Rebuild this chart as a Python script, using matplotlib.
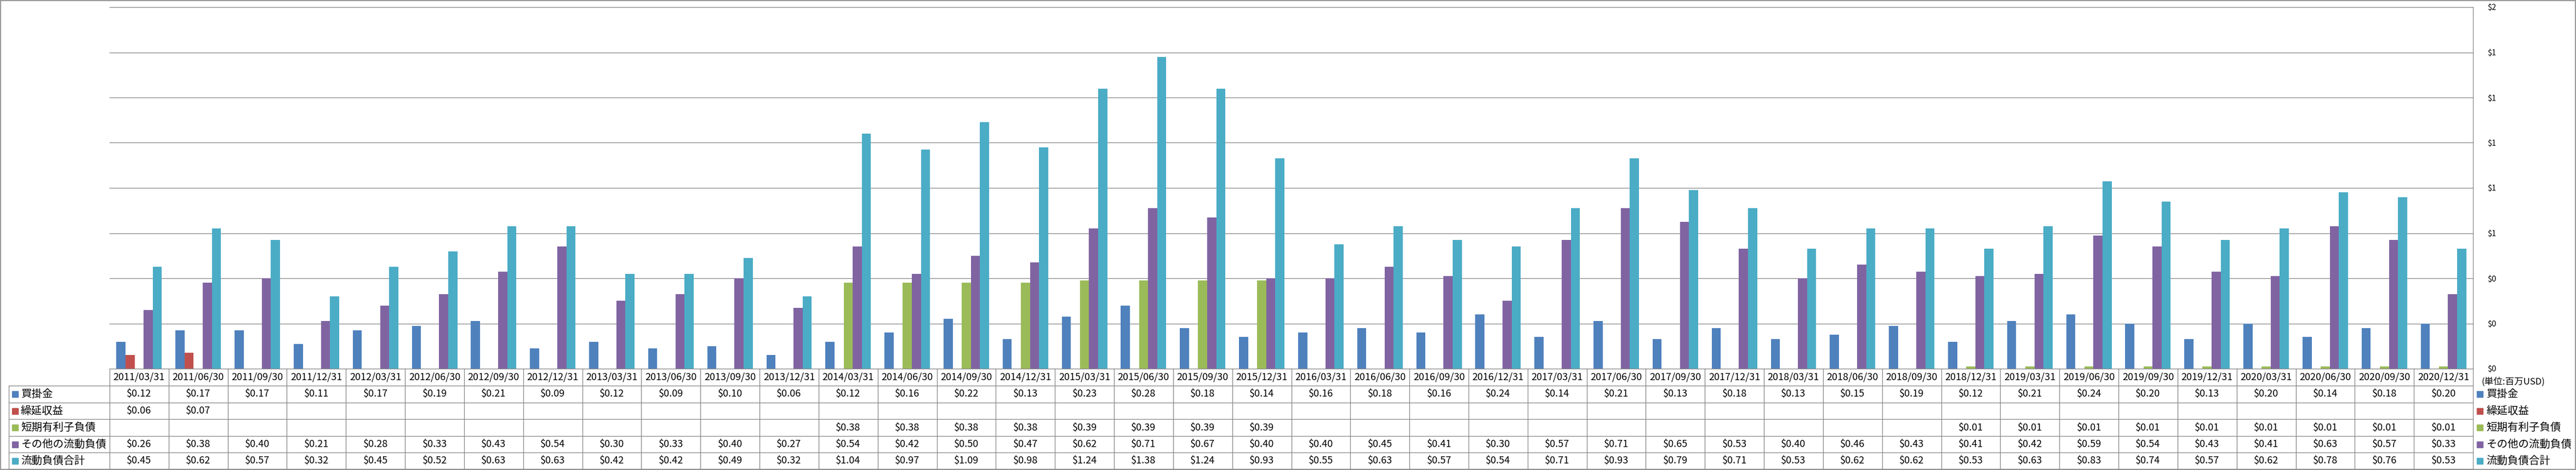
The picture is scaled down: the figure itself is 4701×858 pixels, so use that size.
import numpy as np
import matplotlib
matplotlib.use('Agg')
import matplotlib.pyplot as plt
from matplotlib.patches import Rectangle
from matplotlib.lines import Line2D
from matplotlib.transforms import blended_transform_factory
from matplotlib.ticker import FuncFormatter, MultipleLocator

plt.rcParams['font.family'] = ['Noto Sans CJK JP', 'DejaVu Sans']

# 期末日
dates = [f"{y}/{md}" for y in range(2011, 2021) for md in ("03/31", "06/30", "09/30", "12/31")]

names = ["買掛金", "繰延収益", "短期有利子負債", "その他の流動負債", "流動負債合計"]
colors = ["#4F81BD", "#C0504D", "#9BBB59", "#8064A2", "#4BACC6"]

accounts_payable = [0.12, 0.17, 0.17, 0.11, 0.17, 0.19, 0.21, 0.09, 0.12, 0.09, 0.10, 0.06,
                    0.12, 0.16, 0.22, 0.13, 0.23, 0.28, 0.18, 0.14, 0.16, 0.18, 0.16, 0.24,
                    0.14, 0.21, 0.13, 0.18, 0.13, 0.15, 0.19, 0.12, 0.21, 0.24, 0.20, 0.13,
                    0.20, 0.14, 0.18, 0.20]
deferred_revenue = [0.06, 0.07] + [None] * 38
short_debt = ([None] * 12 + [0.38] * 4 + [0.39] * 4 + [None] * 11 + [0.01] * 9)
other_current = [0.26, 0.38, 0.40, 0.21, 0.28, 0.33, 0.43, 0.54, 0.30, 0.33, 0.40, 0.27,
                 0.54, 0.42, 0.50, 0.47, 0.62, 0.71, 0.67, 0.40, 0.40, 0.45, 0.41, 0.30,
                 0.57, 0.71, 0.65, 0.53, 0.40, 0.46, 0.43, 0.41, 0.42, 0.59, 0.54, 0.43,
                 0.41, 0.63, 0.57, 0.33]
total_current = [0.45, 0.62, 0.57, 0.32, 0.45, 0.52, 0.63, 0.63, 0.42, 0.42, 0.49, 0.32,
                 1.04, 0.97, 1.09, 0.98, 1.24, 1.38, 1.24, 0.93, 0.55, 0.63, 0.57, 0.54,
                 0.71, 0.93, 0.79, 0.71, 0.53, 0.62, 0.62, 0.53, 0.63, 0.83, 0.74, 0.57,
                 0.62, 0.78, 0.76, 0.53]
series = [accounts_payable, deferred_revenue, short_debt, other_current, total_current]

W, H = 4701, 858
fig = plt.figure(figsize=(W / 100, H / 100), dpi=100)
gc = "#868686"


def fx(px):
    return px / W


def fy(py):
    return 1 - py / H


L, R, T, B = 200, 4513, 13, 673
ax = fig.add_axes([fx(L), fy(B), (R - L) / W, (B - T) / H])

n = len(dates)
x = np.arange(n)
bw = 1 / 6.5
for k, (vals, col) in enumerate(zip(series, colors)):
    v = np.array([np.nan if a is None else a for a in vals], dtype=float)
    m = ~np.isnan(v)
    ax.bar(x[m] + (k - 2) * bw, v[m], width=bw, color=col, linewidth=0, zorder=3)

ax.set_xlim(-0.5, n - 0.5)
ax.set_ylim(0, 1.6)
ax.yaxis.set_major_locator(MultipleLocator(0.2))
ax.yaxis.set_major_formatter(FuncFormatter(lambda v, p: f"${int(np.floor(v + 0.5 + 1e-9))}"))
ax.yaxis.tick_right()
ax.tick_params(axis='y', length=0, pad=19, labelsize=10.5, colors='#000000')
ax.set_xticks([])
ax.grid(axis='y', color=gc, lw=0.9, clip_on=False)
ax.set_axisbelow(True)
for s in ("top", "left", "bottom"):
    ax.spines[s].set_visible(False)
ax.spines["right"].set_color(gc)
ax.spines["right"].set_linewidth(0.9)

# データテーブル
tr = blended_transform_factory(ax.transData, fig.transFigure)
edges = [673, 704, 735, 765, 796, 826, 856]
for y in edges[1:]:
    fig.add_artist(Line2D([fx(16), fx(R)], [fy(y), fy(y)], color=gc, lw=0.9))
for i in range(n + 1):
    fig.add_artist(Line2D([i - 0.5, i - 0.5], [fy(673), fy(856)], color=gc, lw=0.9, transform=tr))
fig.add_artist(Line2D([fx(16), fx(16)], [fy(704), fy(856)], color=gc, lw=0.9))

hc = (edges[0] + edges[1]) / 2
for i, d in enumerate(dates):
    fig.text(i, fy(hc), d, transform=tr, ha='center', va='center', fontsize=13)

for r, (vals, col, name) in enumerate(zip(series, colors, names)):
    cy = (edges[r + 1] + edges[r + 2]) / 2
    for i, v in enumerate(vals):
        if v is not None:
            fig.text(i, fy(cy), f"${v:.2f}", transform=tr, ha='center', va='center', fontsize=13)
    fig.add_artist(Rectangle((fx(22), fy(cy + 5.5)), 11 / W, 11 / H, color=col,
                             transform=fig.transFigure))
    fig.text(fx(38), fy(cy), name, ha='left', va='center', fontsize=14)
    # 右側の凡例
    fig.add_artist(Rectangle((fx(4520), fy(cy + 5.5)), 11 / W, 11 / H, color=col,
                             transform=fig.transFigure))
    fig.text(fx(4537), fy(cy), name, ha='left', va='center', fontsize=14)

fig.text(fx(4528), fy(697), "(単位:百万USD)", ha='left', va='center', fontsize=12)

fig.add_artist(Rectangle((fx(1), fy(857)), (W - 2) / W, 856 / H, fill=False,
                         edgecolor=gc, lw=1.2, transform=fig.transFigure))

fig.savefig("out.png", dpi=100)
